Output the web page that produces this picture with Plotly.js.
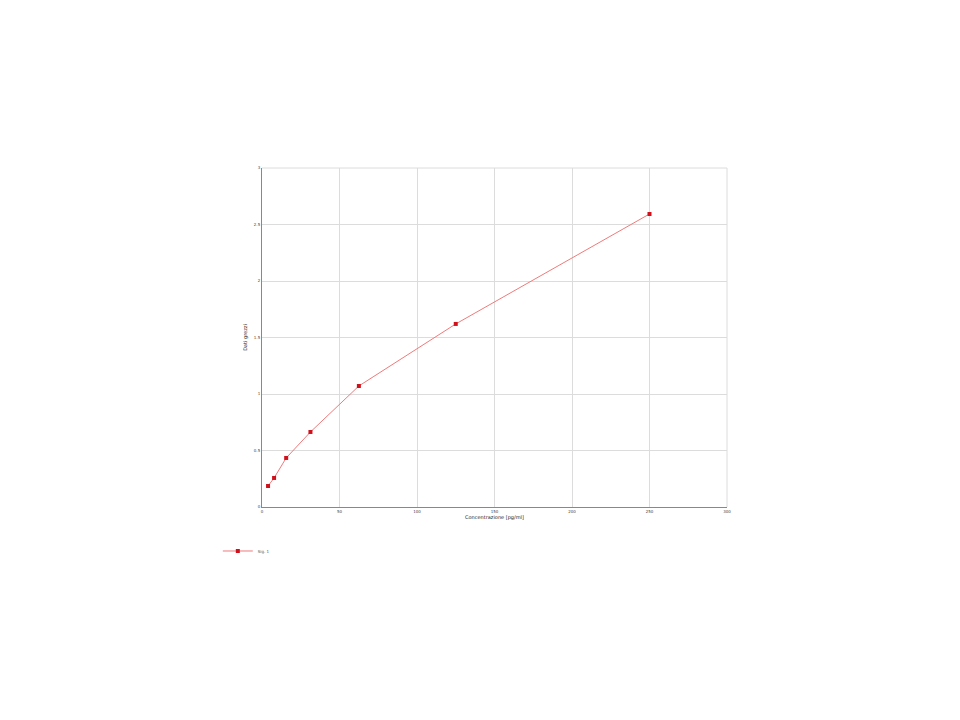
<!DOCTYPE html>
<html>
<head>
<meta charset="utf-8">
<script src="https://cdn.plot.ly/plotly-3.0.1.min.js"></script>
<style>
  html, body { margin: 0; padding: 0; background: #fff; }
  #chart { width: 960px; height: 720px; }
</style>
</head>
<body>
<div id="chart"></div>
<script>
// concentrazioni dello standard e letture grezze
const concentrazioni = [3.9, 7.8, 15.6, 31.25, 62.5, 125, 250];
const datiGrezzi = [0.186, 0.257, 0.434, 0.664, 1.071, 1.62, 2.593];
const nomeSerie = 'Sig. 1';

const xTicks = [0, 50, 100, 150, 200, 250, 300];
const yTicks = [0, 0.5, 1, 1.5, 2, 2.5, 3];

const trace = {
    type: 'scatter',
    mode: 'lines+markers',
    name: nomeSerie,
    x: concentrazioni,
    y: datiGrezzi,
    line: { color: '#f07a7a', width: 1 },
    marker: { symbol: 'square', size: 4, color: '#d0101a' }
};

const layout = {
    width: 960,
    height: 720,
    paper_bgcolor: '#fff',
    plot_bgcolor: '#fff',
    margin: { l: 262, r: 233, t: 168, b: 213 },
    font: { family: 'DejaVu Sans, sans-serif', size: 5, color: '#444' },
    showlegend: true,
    legend: {
        orientation: 'h',
        x: -0.095, y: -0.087,
        xanchor: 'left', yanchor: 'top',
        itemwidth: 30,
        font: { size: 4, color: '#555' },
        bgcolor: 'rgba(0,0,0,0)'
    },
    xaxis: {
        range: [0, 300],
        tickvals: xTicks,
        ticktext: xTicks.map(String),
        showgrid: true,
        gridcolor: '#dcdcdc',
        gridwidth: 1,
        zeroline: false,
        showline: true,
        linecolor: '#888',
        linewidth: 1,
        ticks: '',
        tickfont: { size: 4, color: '#444' },
        title: { text: 'Concentrazione [pg/ml]', font: { size: 5, color: '#222' }, standoff: 2 }
    },
    yaxis: {
        range: [0, 3],
        tickvals: yTicks,
        ticktext: yTicks.map(String),
        showgrid: true,
        gridcolor: '#dcdcdc',
        gridwidth: 1,
        zeroline: false,
        showline: true,
        linecolor: '#888',
        linewidth: 1,
        ticks: '',
        tickfont: { size: 4, color: '#444' },
        title: { text: 'Dati grezzi', font: { size: 5, color: '#222' }, standoff: 6 }
    },
    shapes: [
        { type: 'line', xref: 'paper', yref: 'paper', x0: 0, x1: 1, y0: 1, y1: 1,
          line: { color: '#dcdcdc', width: 1 } },
        { type: 'line', xref: 'paper', yref: 'paper', x0: 1, x1: 1, y0: 0, y1: 1,
          line: { color: '#dcdcdc', width: 1 } }
    ]
};

Plotly.newPlot('chart', [trace], layout, { displayModeBar: false });
</script>
</body>
</html>
